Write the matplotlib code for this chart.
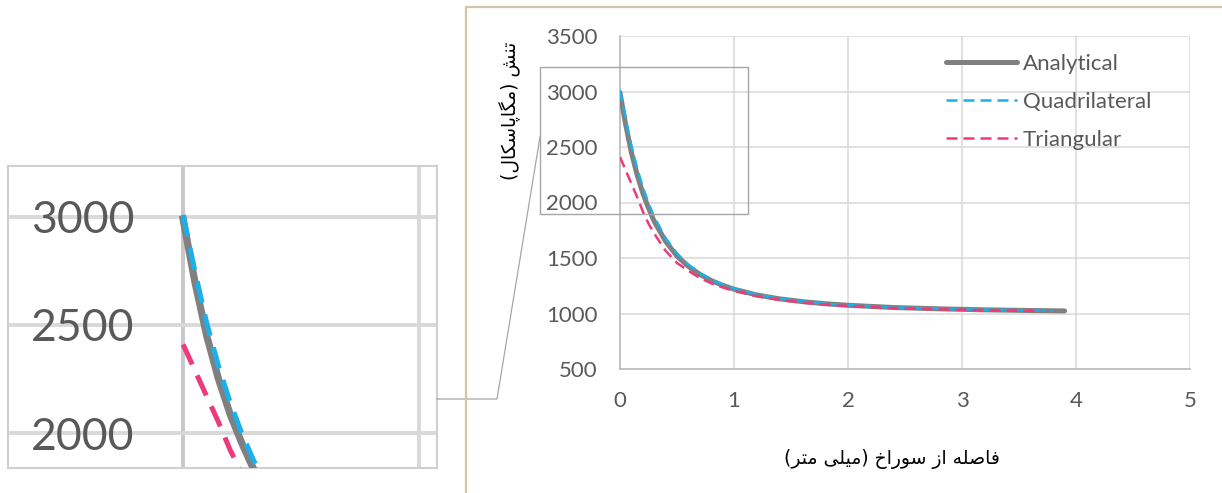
import matplotlib
matplotlib.use("Agg")
import matplotlib.pyplot as plt
from matplotlib.lines import Line2D
from matplotlib.patches import Rectangle

# ---------------- data ----------------
x_analytical = [0, 0.05, 0.1, 0.15, 0.2, 0.25, 0.3, 0.4, 0.5, 0.6, 0.7, 0.8, 0.9, 1.0,
                1.2, 1.4, 1.6, 1.8, 2.0, 2.4, 2.8, 3.2, 3.6, 3.9]
y_analytical = [2990, 2700, 2450, 2250, 2085, 1950, 1830, 1650, 1518, 1424, 1353, 1297, 1254, 1219,
                1167, 1132, 1107, 1088, 1074, 1054, 1042, 1033, 1027, 1023]

x_quad = [0, 0.05, 0.1, 0.15, 0.2, 0.25, 0.3, 0.4, 0.5, 0.6, 0.7, 0.8, 0.9, 1.0,
          1.2, 1.4, 1.6, 1.8, 2.0, 2.4, 2.8, 3.2, 3.6, 3.8]
y_quad = [3010, 2750, 2510, 2310, 2140, 1995, 1870, 1680, 1540, 1440, 1365, 1306, 1261, 1225,
          1171, 1135, 1110, 1090, 1076, 1055, 1043, 1034, 1028, 1026]

x_tri = [0, 0.05, 0.1, 0.15, 0.2, 0.25, 0.3, 0.4, 0.5, 0.6, 0.7, 0.8, 0.9, 1.0,
         1.2, 1.4, 1.6, 1.8, 2.0, 2.4, 2.8, 3.2, 3.7]
y_tri = [2410, 2290, 2170, 2050, 1920, 1810, 1720, 1565, 1455, 1385, 1320, 1272, 1235, 1203,
         1155, 1122, 1098, 1080, 1067, 1048, 1037, 1029, 1022]

series_names = ["Analytical", "Quadrilateral", "Triangular"]
x_ticks = [0, 1, 2, 3, 4, 5]
y_ticks = [500, 1000, 1500, 2000, 2500, 3000, 3500]
inset_y_ticks = [2000, 2500, 3000]
inset_x_grid = [0, 1]
x_label = "فاصله از سوراخ (میلی متر)"
y_label = "تنش (مگاپاسکال)"

# ---------------- minimal Persian shaping (matplotlib has no shaping) ----------------
FORMS = {  # isolated, final, initial, medial
    'ا': ('\uFE8D', '\uFE8E', None, None),
    'ت': ('\uFE95', '\uFE96', '\uFE97', '\uFE98'),
    'ن': ('\uFEE5', '\uFEE6', '\uFEE7', '\uFEE8'),
    'ش': ('\uFEB5', '\uFEB6', '\uFEB7', '\uFEB8'),
    'م': ('\uFEE1', '\uFEE2', '\uFEE3', '\uFEE4'),
    'گ': ('\uFB92', '\uFB93', '\uFB94', '\uFB95'),
    'پ': ('\uFB56', '\uFB57', '\uFB58', '\uFB59'),
    'س': ('\uFEB1', '\uFEB2', '\uFEB3', '\uFEB4'),
    'ک': ('\uFB8E', '\uFB8F', '\uFB90', '\uFB91'),
    'ل': ('\uFEDD', '\uFEDE', '\uFEDF', '\uFEE0'),
    'ف': ('\uFED1', '\uFED2', '\uFED3', '\uFED4'),
    'ص': ('\uFEB9', '\uFEBA', '\uFEBB', '\uFEBC'),
    'ه': ('\uFEE9', '\uFEEA', '\uFEEB', '\uFEEC'),
    'ز': ('\uFEAF', '\uFEB0', None, None),
    'و': ('\uFEED', '\uFEEE', None, None),
    'ر': ('\uFEAD', '\uFEAE', None, None),
    'خ': ('\uFEA5', '\uFEA6', '\uFEA7', '\uFEA8'),
    'ی': ('\uFBFC', '\uFBFD', '\uFBFE', '\uFBFF'),
}


def shape_rtl(s):
    out = []
    n = len(s)
    for i, ch in enumerate(s):
        if ch not in FORMS:
            out.append(ch)
            continue
        f = FORMS[ch]
        prev = s[i - 1] if i > 0 else None
        nxt = s[i + 1] if i < n - 1 else None
        pc = prev in FORMS and FORMS[prev][2] is not None
        nc = (nxt in FORMS) and f[2] is not None
        if pc and nc:
            g = f[3]
        elif pc:
            g = f[1]
        elif nc:
            g = f[2]
        else:
            g = f[0]
        out.append(g)
    vis = ''.join(reversed(out))
    return vis.translate(str.maketrans({'(': ')', ')': '('}))


# ---------------- figure ----------------
W, H = 1222, 493
fig = plt.figure(figsize=(W / 100, H / 100), dpi=100)
fig.patch.set_facecolor("white")


def fbox(l, t, r, b):
    return [l / W, 1 - b / H, (r - l) / W, (b - t) / H]


def fpt(x, y):
    return x / W, 1 - y / H


TICK_FONT = "Lato"
TICK_COLOR = "#595959"
GRID = "#d9d9d9"
AX_LINE = "#bfbfbf"
C_AN = "#808080"
C_QU = "#1cb0ea"
C_TR = "#ee3a7b"

# main axes
ax = fig.add_axes(fbox(620, 36, 1190, 369))
ax.plot(x_analytical, y_analytical, color=C_AN, lw=3.6, solid_capstyle="round",
        label=series_names[0], zorder=3)
ax.plot(x_quad, y_quad, color=C_QU, lw=1.8, dashes=(4.4, 2.4), label=series_names[1], zorder=4)
ax.plot(x_tri, y_tri, color=C_TR, lw=1.8, dashes=(4.4, 2.4), label=series_names[2], zorder=4)
ax.set_xlim(0, 5)
ax.set_ylim(500, 3500)
ax.set_xticks(x_ticks)
ax.set_yticks(y_ticks)
ax.grid(True, color=GRID, lw=1.1)
ax.set_axisbelow(True)
for s in ["top", "right"]:
    ax.spines[s].set_visible(False)
for s in ["left", "bottom"]:
    ax.spines[s].set_color(AX_LINE)
    ax.spines[s].set_linewidth(1.3)
ax.tick_params(length=0, labelcolor=TICK_COLOR, labelsize=16)
ax.tick_params(axis="y", pad=16)
ax.tick_params(axis="x", pad=16)
for t in ax.get_xticklabels() + ax.get_yticklabels():
    t.set_fontfamily(TICK_FONT)

leg = ax.legend(loc="upper left", bbox_to_anchor=fpt(946, 54), bbox_transform=fig.transFigure,
                frameon=False, borderpad=0, borderaxespad=0, handlelength=3.2,
                handletextpad=0.27, labelspacing=0.81,
                prop={"family": TICK_FONT, "size": 16})
for t in leg.get_texts():
    t.set_color(TICK_COLOR)

# zoom box on main axes
ax.add_patch(Rectangle((-0.70, 1900), 1.82, 1325, fill=False, ec="#a6a6a6", lw=1.0,
                       clip_on=False, zorder=5))

# axis titles
fig.text(*fpt(892, 459), shape_rtl(x_label), ha="center", va="center",
         fontsize=13.5, family="DejaVu Sans", color="black")
fig.text(*fpt(510, 111), shape_rtl(y_label), ha="center", va="center", rotation=90,
         fontsize=13.5, family="DejaVu Sans", color="black")

# inset (magnified)
ins = fig.add_axes(fbox(8, 166, 437, 468))
ins.plot(x_analytical, y_analytical, color=C_AN, lw=5.2, zorder=3)
ins.plot(x_quad, y_quad, color=C_QU, lw=3.6, dashes=(4.4, 2.4), zorder=4)
ins.plot(x_tri, y_tri, color=C_TR, lw=3.6, dashes=(4.4, 2.4), zorder=4)
ins.set_xlim(-0.742, 1.076)
ins.set_ylim(1838, 3236)
ins.set_yticks(inset_y_ticks)
ins.set_xticks(inset_x_grid)
ins.set_xticklabels([])
ins.grid(True, color=GRID, lw=2.8)
ins.set_axisbelow(True)
for s in ins.spines.values():
    s.set_color("#d0d0d0")
    s.set_linewidth(1.5)
ins.tick_params(length=0, labelcolor=TICK_COLOR, labelsize=32)
ins.tick_params(axis="y", pad=-91)
for t in ins.get_yticklabels():
    t.set_fontfamily(TICK_FONT)
    t.set_ha("right")
ins.get_xgridlines()[0].set_color("#c8c8c8")

# connector from box to inset
fig.add_artist(Line2D([540 / W, 497 / W, 437 / W], [1 - 137 / H, 1 - 399 / H, 1 - 399 / H],
                      color="#a6a6a6", lw=0.9))
# outer chart frame (tan)
fig.add_artist(Line2D([466 / W, 466 / W, 1.0], [0.0, 1 - 7 / H, 1 - 7 / H],
                      color="#cfc6a3", lw=1.6))

fig.savefig("out.png", dpi=100, facecolor="white")
